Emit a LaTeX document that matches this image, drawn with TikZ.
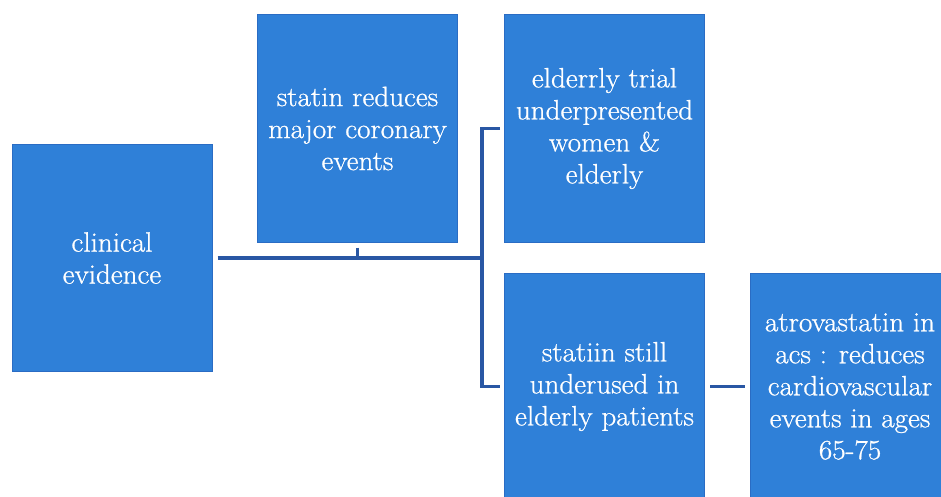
\documentclass[tikz,border=0pt]{standalone}
\usepackage{fontspec}
\newfontfamily\boxfont{Latin Modern Roman}[FakeBold=0.8, FakeStretch=1.04]
\usepackage{xcolor}
\usepackage{tikz}
\usetikzlibrary{positioning}

\definecolor{boxblue}{HTML}{2F80D8}
\definecolor{boxedge}{HTML}{2A6CC4}
\definecolor{linkblue}{HTML}{2957A4}

\tikzset{
  topic/.style={draw=boxedge, fill=boxblue, line width=1pt, minimum width=200pt, minimum height=227pt,
    inner sep=0pt, text=white, align=center, font=\boxfont\fontsize{28}{32}\selectfont},
  link/.style={draw=linkblue, line width=3.5pt}
}

\begin{document}
\begin{tikzpicture}[x=1pt, y=-1pt]
      \useasboundingbox (0,0) rectangle (941,497);
      \clip (0,0) rectangle (941,497);
      \foreach \n/\x/\y/\t in {ce/112/258/{clinical\\evidence},
                               sr/357.5/128.5/{statin reduces\\major coronary\\events},
                               et/604.5/128.5/{elderrly trial\\underpresented\\women \&\\elderly},
                               su/604.5/386.5/{statiin still\\underused in\\elderly patients},
                               at/850/386.5/{atrovastatin in\\acs : reduces\\cardiovascular\\events in ages\\65-75}}{
        \node[topic] (\n) at (\x,\y) {\t};
      }
      \coordinate (j) at (482,258);
      \draw[link, shorten <=5pt] (ce.east) -- (j);
      \draw[link, shorten <=5pt] (sr.south) -- (sr.south |- j);
      \draw[link, shorten <=4pt, shorten >=4pt] (et.west) -| (j) |- (su.west);
      \draw[link, shorten <=5pt, shorten >=5pt] (su.east) -- (at.west);
    \end{tikzpicture}
\end{document}
